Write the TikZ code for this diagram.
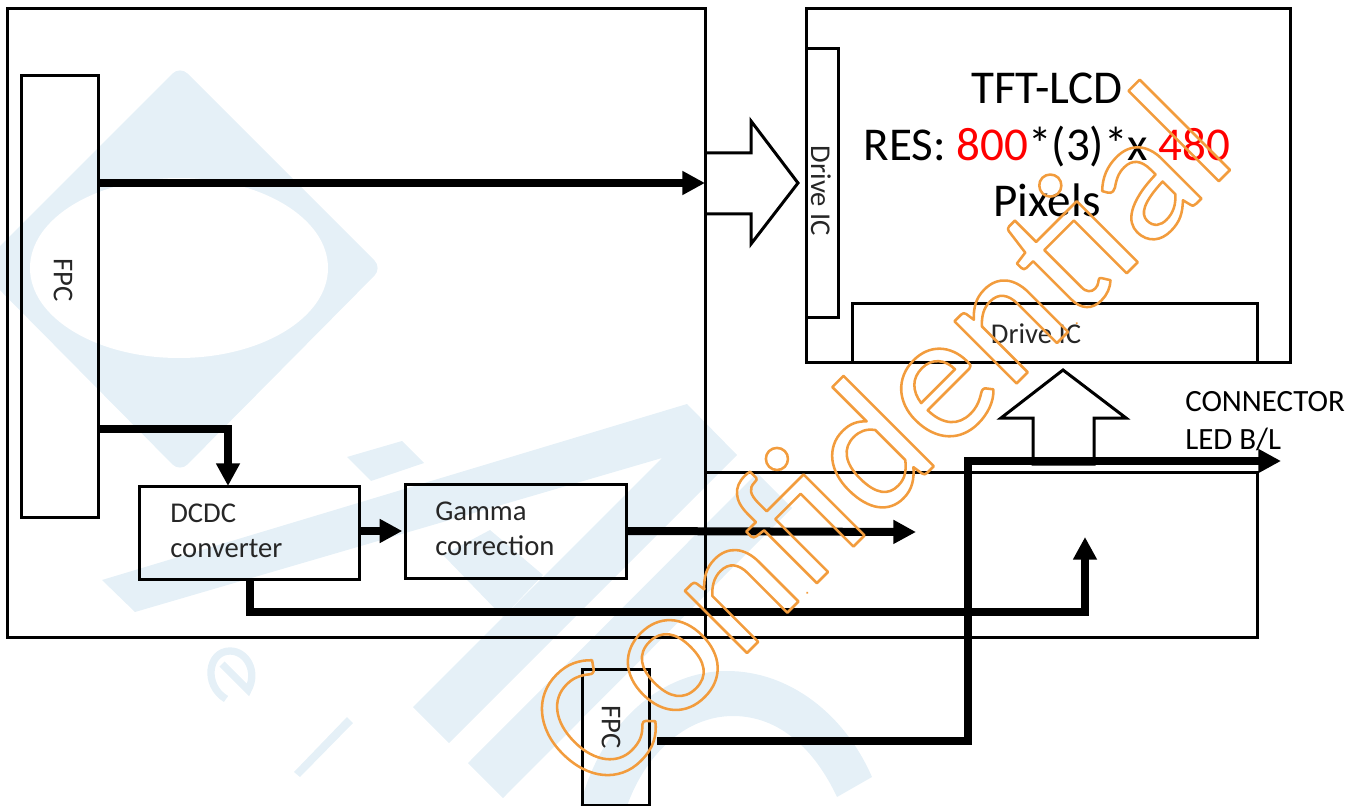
\documentclass[tikz,border=0pt]{standalone}
\usepackage{fontspec}
\setmainfont{Carlito}
\usetikzlibrary{arrows.meta}
\definecolor{marcaagua}{HTML}{E5F0F7}
\newcommand{\trazoletra}{\special{pdf:code 1 Tr 1.9 w 1 J 1 j 0.95 0.61 0.24 RG}}
\newcommand{\rellenoletra}{\special{pdf:code 0 Tr}}
\begin{document}
\begin{tikzpicture}[x=0.75pt,y=-0.75pt]
    \useasboundingbox (0,0) rectangle (1364,806);

    % Definir estilos
    \tikzset{
      caja/.style={
        draw=black, line width=2.25pt, inner sep=0, outer sep=0, anchor=north west
      },
      bus/.style={
        line width=6pt, -{Triangle[length=17pt,width=17pt]}
      },
      flechagrande/.style={draw=black, line width=2.25pt, line join=miter},
      rotulo/.style={font=\fontsize{21.5}{26}\selectfont, inner sep=0, text=black!85},
      logo/.style={fill=marcaagua, draw=none}
    }

    % Marca de agua de fondo
    \begin{scope}
      \clip (0,0) rectangle (1364,806);
      \fill[logo, rounded corners=8pt] (180,66) -- (382,268) -- (180,472) -- (-22,268) -- cycle;
      \fill[white] (179,268) ellipse [x radius=149, y radius=90];
      \fill[logo] (102,580) -- (687,404) -- (737,455) -- (449,743) -- (413,707) -- (662,458) -- (135,612) -- cycle;
      \fill[logo] (443,555) -- (490,530) -- (543,575) -- (503,617) -- cycle;
      \fill[logo] (468,763) -- (757,473) -- (792,508) -- (503,798) -- cycle;
      \fill[logo] (347,457) -- (402,441) -- (424,463) -- (371,481) -- cycle;
      \fill[logo] (294,772) -- (347,717) -- (353,723) -- (300,777) -- cycle;
      \draw[marcaagua, line width=5.5pt] (222,664) -- (248,690) .. controls (258,672) and (247,651) .. (230,651) .. controls (208,651) and (203,685) .. (226,699);
      \fill[logo] (580,806) .. controls (600,725) and (660,671) .. (727,671) .. controls (790,671) and (845,715) .. (872,777)
        -- (837,797) .. controls (815,750) and (780,716) .. (733,716) .. controls (685,716) and (645,755) .. (627,806) -- cycle;
    \end{scope}

    % Placa y panel
    \draw[line width=2.25pt] (705,472) -- (1257,472) -- (1257,637) -- (705,637);
    \node[caja, minimum width=523.5pt, minimum height=471pt] (placa) at (7,9) {};
    \node[caja, minimum width=363pt, minimum height=264.75pt] (panel) at (806,9) {};

    % Bloques
    \node[caja, minimum width=24pt, minimum height=201pt] (drivelateral) at (806,49) {};
    \node[caja, minimum width=303.75pt, minimum height=44.25pt] (driveinferior) at (852,303) {};
    \node[caja, minimum width=57.75pt, minimum height=330.75pt] (fpcizq) at (21,76) {};
    \node[caja, minimum width=50.25pt, minimum height=102pt] (fpcinf) at (582,669) {};
    \node[caja, minimum width=165pt, minimum height=69.75pt] (dcdc) at (139,486) {};
    \node[caja, minimum width=165.75pt, minimum height=70.5pt] (gamma) at (405,484) {};

    % Rotulos
    \node[rotulo, rotate=-90] (rotdrivelateral) at (821,191) {Drive IC};
    \node[rotulo] (rotdriveinferior) at (1036,334) {Drive IC};
    \node[rotulo, rotate=-90] (rotfpcizq) at (63,280) {FPC};
    \node[rotulo, rotate=-90] (rotfpcinf) at (611,727) {FPC};
    \node[rotulo, align=left, anchor=west] (rotdcdc) at (170,531) {DCDC\\converter};
    \node[rotulo, align=left, anchor=west] (rotgamma) at (435,529) {Gamma\\correction};
    \node[font=\fontsize{35.3}{42.5}\selectfont, align=center, inner sep=0] (rotpanel) at (1047,145) {TFT-LCD\\RES: \textcolor{red}{800}*(3)*x \textcolor{red}{480}\\Pixels};
    \node[font=\fontsize{23.2}{28.5}\selectfont, align=left, anchor=west, inner sep=0] (rotconector) at (1185,421) {CONNECTOR\\LED B/L};

    % Puntos de paso
    \coordinate (nivelsenal) at (0,183);
    \coordinate (nivelfuente) at (0,429);
    \coordinate (entradadcdc) at (228,486);
    \coordinate (finalgamma) at (916,532);
    \coordinate (salidadcdc) at (250,579);
    \coordinate (codoa) at (250,612);
    \coordinate (codob) at (1085,612);
    \coordinate (finaldcdc) at (1085,537);
    \coordinate (salidafpc) at (657,741);
    \coordinate (codoc) at (968,741);
    \coordinate (finalled) at (1281,461);

    % Flechas anchas
    \draw[flechagrande] (placa.east |- 0,153) -- (751,153) -- (751,121) -- (798,183) -- (751,244) -- (751,214) -- (placa.east |- 0,214);
    \draw[flechagrande] (1033,464) -- (1033,418) -- (1001,418) -- (1063,370) -- (1126,418) -- (1094,418) -- (1094,464) -- cycle;

    % Conexiones
    \draw[bus] (fpcizq.east |- nivelsenal) -- (placa.east |- nivelsenal);
    \draw[bus] (fpcizq.east |- nivelfuente) -| (entradadcdc);
    \draw[bus, shorten >=2pt] (dcdc.east |- gamma.west) -- (gamma.west);
    \draw[bus] (gamma.east) -- (finalgamma);
    \draw[bus] (salidadcdc) -- (codoa) -- (codob) -- (finaldcdc);
    \draw[bus] (salidafpc) -- (codoc) |- (finalled);

    % Sello encima de todo
    \node[font=\fontsize{138}{138}\selectfont, rotate=45, anchor=base west, inner sep=0] (sello) at (600,800) {\trazoletra Confidential\rellenoletra};
\end{tikzpicture}
\end{document}
